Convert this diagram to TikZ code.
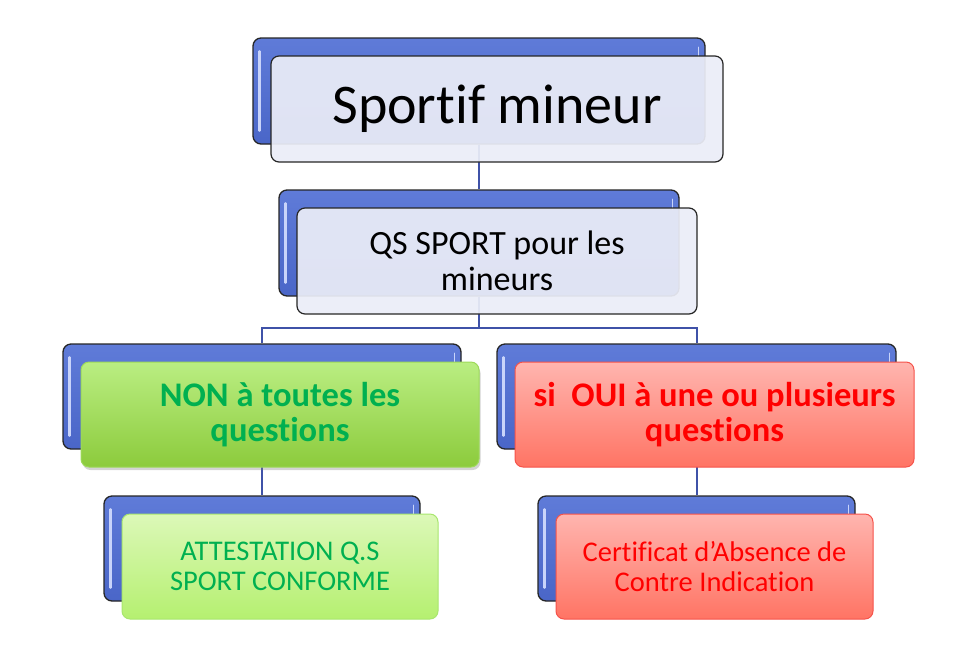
\documentclass[tikz,border=0pt]{standalone}
\usepackage{fontspec}
\setmainfont{Carlito}[Ligatures=CommonOff]
\usepackage{xcolor}
\usetikzlibrary{positioning}
\usetikzlibrary{shadows}
\usetikzlibrary{calc,backgrounds}
\definecolor{backblue}{HTML}{4A66C8}
\definecolor{backblueup}{HTML}{5F7BD8}
\definecolor{glossblue}{HTML}{C9D4FA}
\definecolor{linkblue}{HTML}{3F52A8}
\definecolor{paleface}{HTML}{EBEDF7}
\definecolor{greenup}{HTML}{BAEE82}
\definecolor{greendown}{HTML}{8CCB3C}
\definecolor{greenedge}{HTML}{9DD95A}
\definecolor{greentext}{HTML}{00B050}
\definecolor{lgreenup}{HTML}{DCF8B8}
\definecolor{lgreendown}{HTML}{B5F070}
\definecolor{lgreenedge}{HTML}{A8E66E}
\definecolor{redup}{HTML}{FFB5AF}
\definecolor{reddown}{HTML}{FF7464}
\definecolor{rededge}{HTML}{F5524A}
\definecolor{redtext}{HTML}{FF0000}
\newcommand{\stackbox}[7] % #1 = name , #2 = centre x , #3 = centre y , #4 = width , #5 = height , #6 = style , #7 = text
{\node[backbox, minimum width=#4pt, minimum height=#5pt] (#1back) at (#2-18,#3-18) {};
    \draw[gloss] ([shift={(7,14)}]#1back.north west) -- ([shift={(7,-14)}]#1back.south west);
    \draw[gloss, line width=1.5pt] ([shift={(-7,10)}]#1back.north east) -- ++(0,10);
    \node[#6, minimum width=#4pt, minimum height=#5pt] (#1) at (#2,#3) {#7};
}

\begin{document}
\begin{tikzpicture}[x=1pt, y=-1pt,
        backbox/.style={draw=black!85, line width=1.3pt, rounded corners=8pt,
            top color=backblueup, bottom color=backblue, inner sep=0pt},
        gloss/.style={glossblue, line width=2.5pt, line cap=round},
        palebox/.style={draw=black!85, line width=1.2pt, rounded corners=8pt,
            fill=paleface, fill opacity=0.93, text opacity=1, align=center},
        greenbox/.style={draw=greenedge, line width=1pt, rounded corners=8pt,
            top color=greenup, bottom color=greendown, text=greentext, align=center,
            drop shadow={shadow xshift=1.5pt, shadow yshift=-3pt, opacity=0.35}},
        lgreenbox/.style={draw=lgreenedge, line width=1pt, rounded corners=8pt,
            top color=lgreenup, bottom color=lgreendown, text=greentext, align=center},
        redbox/.style={draw=rededge, line width=1pt, rounded corners=8pt,
            top color=redup, bottom color=reddown, text=redtext, align=center},
        bigtext/.style={font=\fontsize{56}{60}\selectfont},
        midtext/.style={font=\fontsize{34}{36}\selectfont},
        boldtext/.style={font=\fontsize{34.5}{35}\selectfont\bfseries},
        smalltext/.style={font=\fontsize{28.5}{30}\selectfont},
        link/.style={linkblue, line width=2pt}]
    \useasboundingbox (0,0) rectangle (961,657);

    \stackbox{top}{497}{109}{452}{106}{palebox, bigtext}{Sportif mineur}
    \stackbox{qs}{497}{261}{400}{106}{palebox, midtext}{QS SPORT pour les\\ mineurs}
    \stackbox{non}{280}{414.5}{398}{105}{greenbox, boldtext}{NON à toutes les\\ questions}
    \stackbox{oui}{714.5}{414.5}{399}{105}{redbox, boldtext}{si\ \ OUI à une ou plusieurs\\ questions}
    \stackbox{att}{280}{566.5}{316}{105}{lgreenbox, smalltext}{ATTESTATION Q.S\\ SPORT CONFORME}
    \stackbox{ci}{714.5}{566.5}{317}{105}{redbox, smalltext}{Certificat d’Absence de\\ Contre Indication}

    \begin{pgfonlayer}{background}
        \draw[link] (topback.south) -- (qsback.north);
        \draw[link] (qsback.south) -- ++(0,31) coordinate (fork);
        \draw[link] (nonback.north) |- (fork) -| (ouiback.north);
        \draw[link] (nonback.south) -- (attback.north);
        \draw[link] (ouiback.south) -- (ciback.north);
    \end{pgfonlayer}
\end{tikzpicture}
\end{document}
